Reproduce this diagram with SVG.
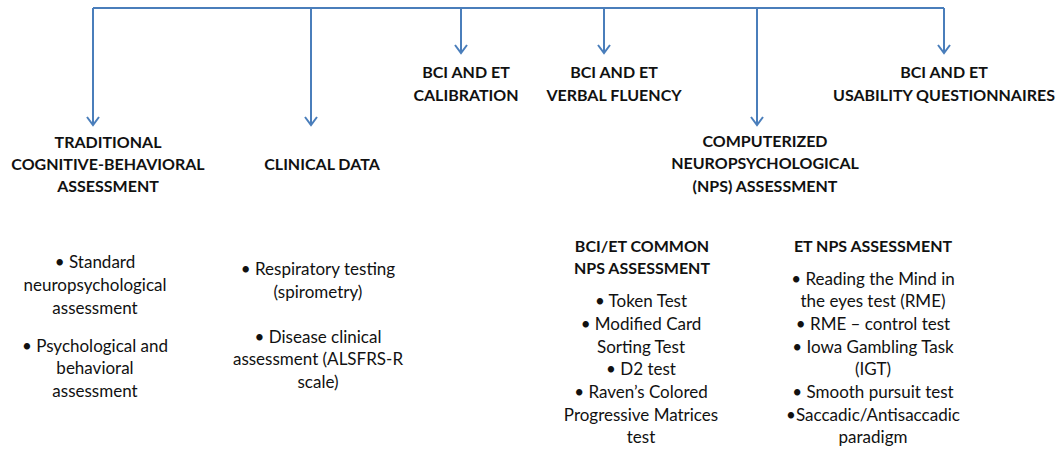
<svg xmlns="http://www.w3.org/2000/svg" width="1063" height="450" viewBox="0 0 1063 450">
  <style>
    .link { fill: none; stroke: #4a7ebb; stroke-width: 2; }
    .head { font-family: Lato, "Liberation Sans", sans-serif; font-weight: bold; font-size: 16px; fill: #111; text-anchor: middle; }
    .body { font-family: Lato, "Liberation Sans", sans-serif; font-size: 17px; fill: #111; text-anchor: middle; }
  </style>
  <defs>
    <marker id="chev" markerUnits="userSpaceOnUse" markerWidth="14" markerHeight="14" viewBox="-9 -7 11 14" refX="0" refY="0" orient="auto" overflow="visible">
      <path d="M-8,-6 L0,0 L-8,6" fill="none" stroke="#4a7ebb" stroke-width="2"/>
    </marker>
  </defs>

  <!-- connectors: trunk line with six drops -->
  <g id="connectors">
    <path class="link" d="M93,8 H944"/>
    <path class="link" d="M93,8 V125" marker-end="url(#chev)"/>
    <path class="link" d="M311,8 V125" marker-end="url(#chev)"/>
    <path class="link" d="M461,8 V53" marker-end="url(#chev)"/>
    <path class="link" d="M604,8 V53" marker-end="url(#chev)"/>
    <path class="link" d="M757,8 V125" marker-end="url(#chev)"/>
    <path class="link" d="M944,8 V53" marker-end="url(#chev)"/>
  </g>

  <g id="traditional">
    <text class="head" x="108" y="148">TRADITIONAL</text>
    <text class="head" x="108" y="170">COGNITIVE-BEHAVIORAL</text>
    <text class="head" x="108" y="192">ASSESSMENT</text>
    <text class="body" x="95" y="268">• Standard</text>
    <text class="body" x="95" y="291">neuropsychological</text>
    <text class="body" x="95" y="314">assessment</text>
    <text class="body" x="95" y="352">• Psychological and</text>
    <text class="body" x="95" y="374">behavioral</text>
    <text class="body" x="95" y="397">assessment</text>
  </g>

  <g id="clinical">
    <text class="head" x="322" y="170">CLINICAL DATA</text>
    <text class="body" x="318" y="275">• Respiratory testing</text>
    <text class="body" x="318" y="298">(spirometry)</text>
    <text class="body" x="318" y="343">• Disease clinical</text>
    <text class="body" x="318" y="365">assessment (ALSFRS-R</text>
    <text class="body" x="318" y="388">scale)</text>
  </g>

  <g id="calibration">
    <text class="head" x="466" y="78">BCI AND ET</text>
    <text class="head" x="466" y="101">CALIBRATION</text>
  </g>

  <g id="fluency">
    <text class="head" x="614" y="78">BCI AND ET</text>
    <text class="head" x="614" y="101">VERBAL FLUENCY</text>
  </g>

  <g id="computerized">
    <text class="head" x="765" y="147">COMPUTERIZED</text>
    <text class="head" x="765" y="169">NEUROPSYCHOLOGICAL</text>
    <text class="head" x="765" y="192">(NPS) ASSESSMENT</text>
  </g>

  <g id="usability">
    <text class="head" x="944" y="78">BCI AND ET</text>
    <text class="head" x="944" y="101">USABILITY QUESTIONNAIRES</text>
  </g>

  <g id="common-nps">
    <text class="head" x="642" y="252">BCI/ET COMMON</text>
    <text class="head" x="642" y="274">NPS ASSESSMENT</text>
    <text class="body" x="641" y="307">• Token Test</text>
    <text class="body" x="641" y="330">• Modified Card</text>
    <text class="body" x="641" y="353">Sorting Test</text>
    <text class="body" x="641" y="375">• D2 test</text>
    <text class="body" x="641" y="398">• Raven’s Colored</text>
    <text class="body" x="641" y="421">Progressive Matrices</text>
    <text class="body" x="641" y="443">test</text>
  </g>

  <g id="et-nps">
    <text class="head" x="873" y="252">ET NPS ASSESSMENT</text>
    <text class="body" x="873" y="285">• Reading the Mind in</text>
    <text class="body" x="873" y="307">the eyes test (RME)</text>
    <text class="body" x="873" y="330">• RME – control test</text>
    <text class="body" x="873" y="353">• Iowa Gambling Task</text>
    <text class="body" x="873" y="375">(IGT)</text>
    <text class="body" x="873" y="398">• Smooth pursuit test</text>
    <text class="body" x="873" y="421">•Saccadic/Antisaccadic</text>
    <text class="body" x="873" y="443">paradigm</text>
  </g>
</svg>
